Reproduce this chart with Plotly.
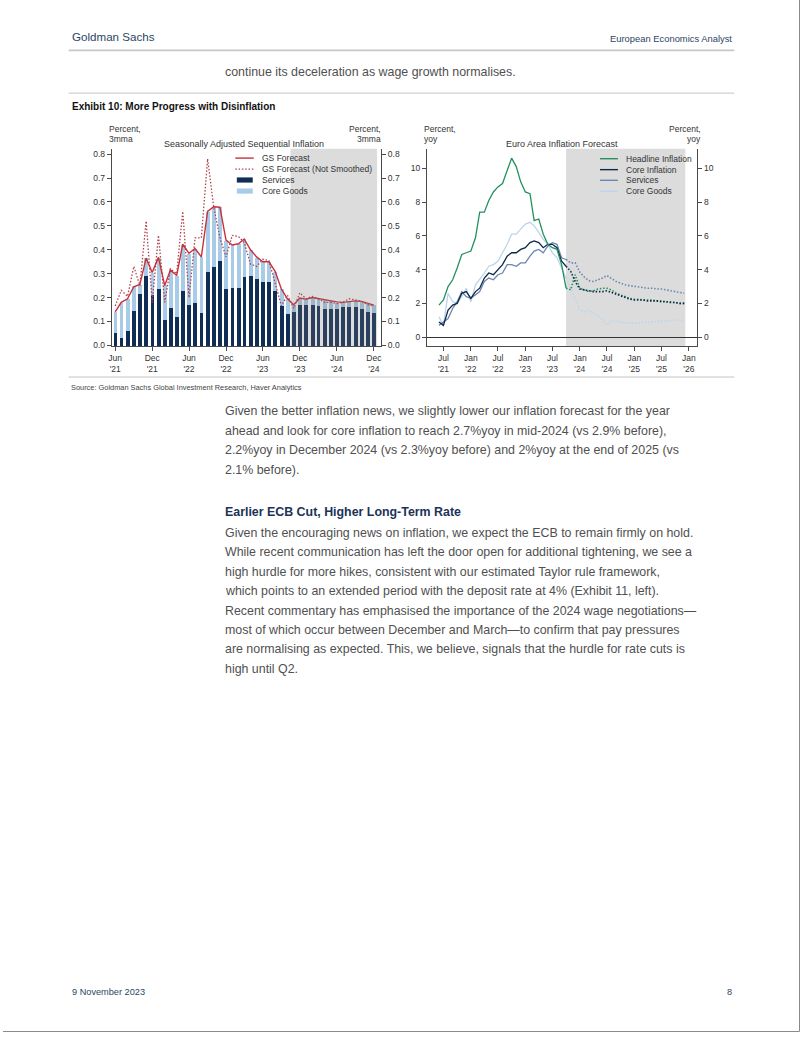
import pandas as pd
import plotly.graph_objects as go

# ---------------- DATA ----------------
# Left chart: monthly, Jun 2021 .. Dec 2024
left_months = pd.date_range("2021-06-01", "2024-12-01", freq="MS")
services_contrib = [0.055, 0.030, 0.060, 0.145, 0.215, 0.290, 0.210, 0.238, 0.107, 0.158,
                    0.120, 0.230, 0.172, 0.177, 0.136, 0.307, 0.330, 0.353, 0.236, 0.240,
                    0.240, 0.287, 0.290, 0.278, 0.265, 0.265, 0.228, 0.165, 0.133, 0.140,
                    0.170, 0.170, 0.170, 0.165, 0.155, 0.155, 0.155, 0.160, 0.163, 0.160,
                    0.153, 0.140, 0.138]
goods_contrib = [0.085, 0.150, 0.135, 0.105, 0.040, 0.075, 0.095, 0.127, 0.146, 0.157,
                 0.170, 0.190, 0.211, 0.228, 0.234, 0.253, 0.250, 0.225, 0.202, 0.180,
                 0.185, 0.158, 0.110, 0.090, 0.085, 0.085, 0.082, 0.070, 0.062, 0.028,
                 0.028, 0.023, 0.030, 0.030, 0.035, 0.030, 0.025, 0.020, 0.023, 0.027,
                 0.030, 0.036, 0.030]
gs_forecast = [0.140, 0.180, 0.195, 0.245, 0.255, 0.365, 0.305, 0.368, 0.250, 0.315,
               0.292, 0.423, 0.385, 0.405, 0.370, 0.560, 0.580, 0.578, 0.440, 0.420,
               0.425, 0.445, 0.400, 0.370, 0.350, 0.350, 0.310, 0.235, 0.195, 0.170,
               0.198, 0.193, 0.200, 0.195, 0.190, 0.186, 0.182, 0.180, 0.184, 0.186,
               0.184, 0.176, 0.168]
gs_not_smoothed = [0.165, 0.230, 0.205, 0.330, 0.250, 0.520, 0.180, 0.460, 0.180, 0.320,
                   0.300, 0.560, 0.200, 0.450, 0.450, 0.780, 0.580, 0.450, 0.370, 0.460,
                   0.455, 0.430, 0.340, 0.330, 0.360, 0.355, 0.260, 0.165, 0.210, 0.155,
                   0.220, 0.195, 0.205, 0.195, 0.180, 0.180, 0.175, 0.180, 0.195, 0.190,
                   0.185, 0.170, 0.165]
left_tick_vals = ["2021-06-01", "2021-12-01", "2022-06-01", "2022-12-01",
                  "2023-06-01", "2023-12-01", "2024-06-01", "2024-12-01"]
left_tick_text = ["Jun<br>'21", "Dec<br>'21", "Jun<br>'22", "Dec<br>'22",
                  "Jun<br>'23", "Dec<br>'23", "Jun<br>'24", "Dec<br>'24"]

# Right chart: actuals Jun 2021 .. Oct 2023, forecasts Oct 2023 .. Dec 2025
actual_months = pd.date_range("2021-06-01", "2023-10-01", freq="MS")
fcst_months = pd.date_range("2023-10-01", "2025-12-01", freq="MS")
headline_act = [1.9, 2.2, 3.0, 3.4, 4.1, 4.9, 5.0,
                5.1, 5.9, 7.4, 7.4, 8.1, 8.6, 8.9, 9.1, 9.9, 10.6, 10.1, 9.2,
                8.6, 8.5, 6.9, 7.0, 6.1, 5.5, 5.3, 5.2, 4.3, 2.9]
core_act = [0.9, 0.7, 1.6, 1.9, 2.0, 2.6, 2.7,
            2.3, 2.7, 2.9, 3.5, 3.8, 3.7, 4.0, 4.3, 4.8, 5.0, 5.0, 5.2,
            5.3, 5.6, 5.7, 5.6, 5.3, 5.5, 5.5, 5.3, 4.5, 4.2]
services_act = [0.7, 0.9, 1.1, 1.7, 2.1, 2.7, 2.4,
                2.3, 2.5, 2.7, 3.3, 3.5, 3.4, 3.7, 3.8, 4.3, 4.3, 4.2, 4.4,
                4.4, 4.8, 5.1, 5.2, 5.0, 5.4, 5.6, 5.5, 4.7, 4.6]
goods_act = [1.2, 0.7, 2.6, 2.1, 2.0, 2.4, 2.9,
             2.1, 3.1, 3.4, 3.8, 4.2, 4.3, 4.5, 5.0, 5.5, 6.1, 6.1, 6.4,
             6.7, 6.8, 6.6, 6.2, 5.8, 5.5, 5.0, 4.7, 4.1, 3.5]
headline_fc = [2.9, 2.8, 3.7, 2.9, 2.8, 2.7, 2.75, 2.85, 2.9, 2.9, 2.8, 2.6, 2.5, 2.4,
               2.3, 2.25, 2.25, 2.2, 2.2, 2.2, 2.15, 2.15, 2.1, 2.1, 2.05, 2.0, 2.0]
core_fc = [4.2, 3.9, 3.3, 2.85, 2.8, 2.75, 2.7, 2.7, 2.7, 2.75, 2.65, 2.55, 2.45, 2.35,
           2.25, 2.2, 2.2, 2.2, 2.15, 2.15, 2.15, 2.1, 2.1, 2.05, 2.05, 2.0, 2.0]
services_fc = [4.6, 4.4, 4.4, 3.85, 3.55, 3.35, 3.3, 3.4, 3.5, 3.65, 3.45, 3.3, 3.2, 3.1,
               3.05, 3.0, 2.95, 2.95, 2.9, 2.9, 2.85, 2.85, 2.8, 2.75, 2.7, 2.65, 2.6]
goods_fc = [3.5, 2.9, 2.3, 1.6, 1.5, 1.6, 1.45, 1.25, 1.05, 0.7, 1.0, 0.95, 0.9, 0.85,
            0.85, 0.85, 0.85, 0.9, 0.9, 0.9, 0.95, 0.95, 0.95, 1.0, 1.0, 1.0, 1.0]
right_tick_vals = ["2021-07-01", "2022-01-01", "2022-07-01", "2023-01-01", "2023-07-01",
                   "2024-01-01", "2024-07-01", "2025-01-01", "2025-07-01", "2026-01-01"]
right_tick_text = ["Jul<br>'21", "Jan<br>'22", "Jul<br>'22", "Jan<br>'23", "Jul<br>'23",
                   "Jan<br>'24", "Jul<br>'24", "Jan<br>'25", "Jul<br>'25", "Jan<br>'26"]

# ---------------- STYLE ----------------
W, H = 802, 1037
NAVY = "#0f2d55"
LIGHTBLUE = "#a8cbe8"
RED = "#c8313a"
DOTRED = "#b0424f"
GREEN = "#22905f"
CORE = "#0d2747"
SERV = "#6c86ae"
GOODS = "#bcd5ec"
AX = "#4a4a4a"
TXT = "#333333"
CF = "Liberation Sans, Arial, sans-serif"
NARROW = "Liberation Sans Narrow, Arial Narrow, Liberation Sans, sans-serif"
BODY = "Liberation Sans, Arial, sans-serif"
BODYC = "#505050"
DOTS = "1.5px,1.8px"


def X(px):
    return px / W


def Y(py):
    return 1 - py / H


fig = go.Figure()

bar_w = 0.62 * 30.44 * 86400000
fig.add_trace(go.Bar(x=left_months, y=services_contrib, marker_color=NAVY, width=bar_w,
                     marker_line_width=0, xaxis="x", yaxis="y", name="Services"))
fig.add_trace(go.Bar(x=left_months, y=goods_contrib, marker_color=LIGHTBLUE, width=bar_w,
                     marker_line_width=0, xaxis="x", yaxis="y", name="Core Goods"))
fig.add_trace(go.Scatter(x=left_months, y=gs_not_smoothed, mode="lines",
                         line=dict(color=DOTRED, width=1.3, dash=DOTS),
                         xaxis="x", yaxis="y2", name="GS Forecast (Not Smoothed)"))
fig.add_trace(go.Scatter(x=left_months, y=gs_forecast, mode="lines",
                         line=dict(color=RED, width=1.4),
                         xaxis="x", yaxis="y2", name="GS Forecast"))

# right chart
for ys, col in [(goods_act, GOODS), (services_act, SERV), (core_act, CORE), (headline_act, GREEN)]:
    fig.add_trace(go.Scatter(x=actual_months, y=ys, mode="lines",
                             line=dict(color=col, width=1.3), xaxis="x2", yaxis="y3"))
for ys, col in [(goods_fc, GOODS), (services_fc, SERV), (headline_fc, GREEN), (core_fc, CORE)]:
    fig.add_trace(go.Scatter(x=fcst_months, y=ys, mode="lines",
                             line=dict(color=col, width=1.6, dash=DOTS), xaxis="x2", yaxis="y4"))

tickfont = dict(family=CF, size=8.5, color=TXT)
common_y = dict(showgrid=False, zeroline=False, showline=True, linecolor=AX, linewidth=1,
                ticks="outside", ticklen=4, tickcolor=AX, tickfont=tickfont)
common_x = dict(showgrid=False, zeroline=False, showline=True, linecolor=AX, linewidth=1,
                ticks="outside", ticklen=4, tickcolor=AX, tickfont=tickfont, tickangle=0)

ydom = [Y(347.5), Y(149.3)]
lrange = [-0.0033, 0.8225]
rrange = [-0.531, 11.16]
lticks = [0, 0.1, 0.2, 0.3, 0.4, 0.5, 0.6, 0.7, 0.8]
lticktext = ["0.0", "0.1", "0.2", "0.3", "0.4", "0.5", "0.6", "0.7", "0.8"]

fig.update_layout(
    width=W, height=H, margin=dict(l=0, r=0, t=0, b=0),
    paper_bgcolor="white", plot_bgcolor="rgba(0,0,0,0)",
    showlegend=False, barmode="stack", bargap=0,
    xaxis=dict(common_x, domain=[X(109.3), X(380)], range=["2021-05-15", "2025-01-06"],
               tickmode="array", tickvals=left_tick_vals, ticktext=left_tick_text, anchor="y"),
    yaxis=dict(common_y, domain=ydom, range=lrange, tickmode="array",
               tickvals=lticks, ticktext=lticktext, anchor="x"),
    yaxis2=dict(common_y, domain=ydom, range=lrange, overlaying="y", side="right", anchor="x",
                tickmode="array", tickvals=lticks, ticktext=lticktext),
    xaxis2=dict(common_x, domain=[X(426), X(697.7)], range=["2021-03-12", "2026-02-26"],
                tickmode="array", tickvals=right_tick_vals, ticktext=right_tick_text, anchor="y3"),
    yaxis3=dict(common_y, domain=ydom, range=rrange, tickmode="array",
                tickvals=[0, 2, 4, 6, 8, 10], anchor="x2",
                zeroline=True, zerolinecolor="#333333", zerolinewidth=1),
    yaxis4=dict(common_y, domain=ydom, range=rrange, overlaying="y3", side="right", anchor="x2",
                tickmode="array", tickvals=[0, 2, 4, 6, 8, 10]),
)

shapes = []
# forecast shading
shapes.append(dict(type="rect", xref="x", yref="paper", x0="2023-10-16", x1="2024-12-17",
                   y0=ydom[0], y1=ydom[1], fillcolor="rgba(120,120,120,0.26)",
                   line_width=0, layer="above"))
shapes.append(dict(type="rect", xref="x2", yref="paper", x0="2023-10-01", x1="2025-12-08",
                   y0=ydom[0], y1=ydom[1], fillcolor="#dcdcdc", line_width=0, layer="below"))


def hline(py, x0, x1, color="#c4c4c4", width=1):
    shapes.append(dict(type="line", xref="paper", yref="paper", x0=X(x0), x1=X(x1),
                       y0=Y(py), y1=Y(py), line=dict(color=color, width=width)))


hline(50.5, 66, 735, "#c8c8c8", 1.8)
hline(93.5, 66, 735, "#c4c4c4", 1)
hline(378.5, 66, 735, "#c4c4c4", 1)
# page frame
shapes.append(dict(type="line", xref="paper", yref="paper", x0=X(800.5), x1=X(800.5),
                   y0=Y(1035.5), y1=1, line=dict(color="#8a8a8a", width=1)))
shapes.append(dict(type="line", xref="paper", yref="paper", x0=0, x1=X(800.5),
                   y0=Y(1035.5), y1=Y(1035.5), line=dict(color="#8a8a8a", width=1)))

annotations = []


def txt(s, px, py, size, color=TXT, family=CF, xanchor="left", bold=False):
    if bold:
        s = "<b>" + s + "</b>"
    annotations.append(dict(text=s, x=X(px), y=Y(py), xref="paper", yref="paper",
                            xanchor=xanchor, yanchor="middle", showarrow=False,
                            font=dict(family=family, size=size, color=color), align=xanchor))


# legends (manual)
def leg_line(px0, px1, py, color, dash="solid", width=1.4):
    shapes.append(dict(type="line", xref="paper", yref="paper", x0=X(px0), x1=X(px1),
                       y0=Y(py), y1=Y(py), line=dict(color=color, width=width, dash=dash)))


def leg_box(px0, px1, py, color):
    shapes.append(dict(type="rect", xref="paper", yref="paper", x0=X(px0), x1=X(px1),
                       y0=Y(py + 2.6), y1=Y(py - 2.6), fillcolor=color, line_width=0))


leg_line(233.5, 252, 158.7, RED)
txt("GS Forecast", 258.3, 158.7, 8.5)
leg_line(233.5, 252, 169.7, DOTRED, DOTS, 1.3)
txt("GS Forecast (Not Smoothed)", 258.3, 169.7, 8.5)
leg_box(235, 251, 180.7, NAVY)
txt("Services", 258.3, 180.7, 8.5)
leg_box(235, 251, 191.8, LIGHTBLUE)
txt("Core Goods", 258.3, 191.8, 8.5)

leg_line(600, 618, 159.3, GREEN)
txt("Headline Inflation", 624.3, 159.3, 8.5)
leg_line(600, 618, 170.3, CORE)
txt("Core Inflation", 624.3, 170.3, 8.5)
leg_line(600, 618, 181, SERV)
txt("Services", 624.3, 181, 8.5)
leg_line(600, 618, 192, GOODS)
txt("Core Goods", 624.3, 192, 8.5)

# chart titles and units
txt("Seasonally Adjusted Sequential Inflation", 242.7, 145, 9, xanchor="center")
txt("Euro Area Inflation Forecast", 561.7, 145, 9, xanchor="center")
txt("Percent,", 105, 130, 8.5)
txt("3mma", 105, 139.3, 8.5)
txt("Percent,", 381.7, 130, 8.5, xanchor="right")
txt("3mma", 381.7, 139.3, 8.5, xanchor="right")
txt("Percent,", 421, 130, 8.5)
txt("yoy", 421, 139.3, 8.5)
txt("Percent,", 703.3, 130, 8.5, xanchor="right")
txt("yoy", 703.3, 139.3, 8.5, xanchor="right")

# page text
HDR = "#2c4563"
txt("Goldman Sachs", 67, 37, 11.6, HDR, NARROW)
txt("European Economics Analyst", 734.5, 38.5, 9.4, HDR, NARROW, xanchor="right")
txt("continue its deceleration as wage growth normalises.", 221, 72, 12.4, BODYC, BODY)
txt("Exhibit 10: More Progress with Disinflation", 67, 106.5, 10, "#111111", NARROW, bold=True)
txt("Source: Goldman Sachs Global Investment Research, Haver Analytics", 66, 388.5, 7.4,
    "#444444", NARROW)

para1 = ["Given the better inflation news, we slightly lower our inflation forecast for the year",
         "ahead and look for core inflation to reach 2.7%yoy in mid-2024 (vs 2.9% before),",
         "2.2%yoy in December 2024 (vs 2.3%yoy before) and 2%yoy at the end of 2025 (vs",
         "2.1% before)."]
for i, line in enumerate(para1):
    txt(line, 221, 413 + 19.5 * i, 12.4, BODYC, BODY)

txt("Earlier ECB Cut, Higher Long-Term Rate", 221, 513.5, 12.4, "#1b3358", NARROW, bold=True)

para2 = ["Given the encouraging news on inflation, we expect the ECB to remain firmly on hold.",
         "While recent communication has left the door open for additional tightening, we see a",
         "high hurdle for more hikes, consistent with our estimated Taylor rule framework,",
         "which points to an extended period with the deposit rate at 4% (Exhibit 11, left).",
         "Recent commentary has emphasised the importance of the 2024 wage negotiations\u2014",
         "most of which occur between December and March\u2014to confirm that pay pressures",
         "are normalising as expected. This, we believe, signals that the hurdle for rate cuts is",
         "high until Q2."]
for i, line in enumerate(para2):
    txt(line, 221, 535 + 19.5 * i, 12.4, BODYC, BODY)

txt("9 November 2023", 67, 996, 9.2, HDR, NARROW)
txt("8", 735, 996, 9.2, HDR, NARROW, xanchor="right")

fig.update_layout(shapes=shapes, annotations=annotations)
fig.write_html("out.html", config={"displayModeBar": False},
               post_script="document.body.style.margin='0px';document.body.style.overflow='hidden';")
